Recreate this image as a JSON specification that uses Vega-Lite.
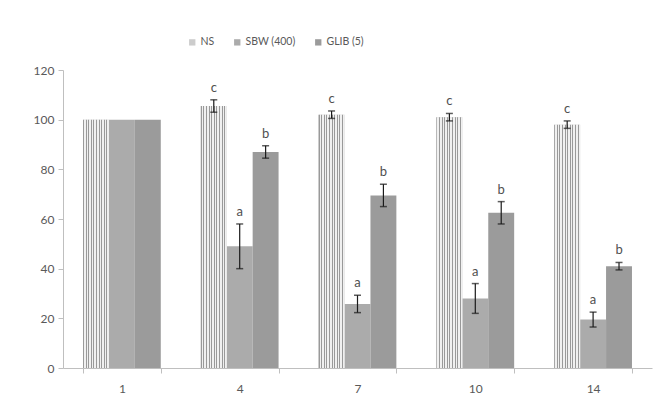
{
  "$schema": "https://vega.github.io/schema/vega-lite/v6.json",
  "width": 589,
  "height": 298,
  "autosize": {"type": "none"},
  "padding": {"left": 63, "top": 70, "right": 15, "bottom": 35},
  "background": "#ffffff",
  "config": {
    "view": {"stroke": null},
    "font": "Lato",
    "axis": {"labelFont": "Lato", "labelColor": "#595959", "labelFontSize": 12, "domainColor": "#bfbfbf", "tickColor": "#bfbfbf", "grid": false, "title": null}
  },
  "data": {
    "values": [
      {"day": 1, "s": "NS", "v": 100, "e": 0, "lbl": ""},
      {"day": 1, "s": "SBW (400)", "v": 100, "e": 0, "lbl": ""},
      {"day": 1, "s": "GLIB (5)", "v": 100, "e": 0, "lbl": ""},
      {"day": 4, "s": "NS", "v": 105.5, "e": 2.5, "lbl": "c"},
      {"day": 4, "s": "SBW (400)", "v": 49, "e": 9, "lbl": "a"},
      {"day": 4, "s": "GLIB (5)", "v": 87, "e": 2.5, "lbl": "b"},
      {"day": 7, "s": "NS", "v": 102, "e": 1.5, "lbl": "c"},
      {"day": 7, "s": "SBW (400)", "v": 25.8, "e": 3.5, "lbl": "a"},
      {"day": 7, "s": "GLIB (5)", "v": 69.5, "e": 4.5, "lbl": "b"},
      {"day": 10, "s": "NS", "v": 101, "e": 1.5, "lbl": "c"},
      {"day": 10, "s": "SBW (400)", "v": 28, "e": 6, "lbl": "a"},
      {"day": 10, "s": "GLIB (5)", "v": 62.5, "e": 4.5, "lbl": "b"},
      {"day": 14, "s": "NS", "v": 98, "e": 1.5, "lbl": "c"},
      {"day": 14, "s": "SBW (400)", "v": 19.5, "e": 3, "lbl": "a"},
      {"day": 14, "s": "GLIB (5)", "v": 41, "e": 1.5, "lbl": "b"}
    ]
  },
  "transform": [
    {"calculate": "datum.v + datum.e", "as": "hi"},
    {"calculate": "datum.v - datum.e", "as": "lo"}
  ],
  "encoding": {
    "x": {
      "field": "day", "type": "ordinal",
      "scale": {"paddingInner": 0.34, "paddingOuter": 0.17},
      "axis": {"labelAngle": 0, "tickBand": "extent", "tickSize": 5, "labelPadding": 10}
    },
    "xOffset": {"field": "s", "type": "nominal", "scale": {"domain": ["NS", "SBW (400)", "GLIB (5)"], "paddingInner": 0, "paddingOuter": 0}}
  },
  "layer": [
    {
      "mark": {"type": "bar"},
      "encoding": {
        "y": {"field": "v", "type": "quantitative", "scale": {"domain": [0, 120]}, "axis": {"values": [0, 20, 40, 60, 80, 100, 120], "tickSize": 5, "labelPadding": 4}},
        "color": {
          "field": "s", "type": "nominal",
          "scale": {"domain": ["NS", "SBW (400)", "GLIB (5)"], "range": ["#cccccc", "#ababab", "#9b9b9b"]},
          "legend": {
            "title": null, "orient": "none", "direction": "horizontal", "legendX": 124, "legendY": -33,
            "symbolType": "square", "symbolSize": 40, "symbolStrokeWidth": 0, "labelFontSize": 10.5, "labelColor": "#595959", "labelFont": "Lato", "columnPadding": 17, "labelOffset": 3
          }
        }
      }
    },
    {
      "transform": [{"filter": "datum.s === 'NS'"}],
      "mark": {
        "type": "bar",
        "fill": {
          "gradient": "linear", "x1": 0, "y1": 0, "x2": 1, "y2": 0,
          "stops": [
            {"offset": 0.0, "color": "#999999"}, {"offset": 0.04, "color": "#999999"}, {"offset": 0.04, "color": "#f0f0f0"}, {"offset": 0.1, "color": "#f0f0f0"},
            {"offset": 0.1, "color": "#999999"}, {"offset": 0.14, "color": "#999999"}, {"offset": 0.14, "color": "#f0f0f0"}, {"offset": 0.2, "color": "#f0f0f0"},
            {"offset": 0.2, "color": "#999999"}, {"offset": 0.24, "color": "#999999"}, {"offset": 0.24, "color": "#f0f0f0"}, {"offset": 0.3, "color": "#f0f0f0"},
            {"offset": 0.3, "color": "#999999"}, {"offset": 0.34, "color": "#999999"}, {"offset": 0.34, "color": "#f0f0f0"}, {"offset": 0.4, "color": "#f0f0f0"},
            {"offset": 0.4, "color": "#999999"}, {"offset": 0.44, "color": "#999999"}, {"offset": 0.44, "color": "#f0f0f0"}, {"offset": 0.5, "color": "#f0f0f0"},
            {"offset": 0.5, "color": "#999999"}, {"offset": 0.54, "color": "#999999"}, {"offset": 0.54, "color": "#f0f0f0"}, {"offset": 0.6, "color": "#f0f0f0"},
            {"offset": 0.6, "color": "#999999"}, {"offset": 0.64, "color": "#999999"}, {"offset": 0.64, "color": "#f0f0f0"}, {"offset": 0.7, "color": "#f0f0f0"},
            {"offset": 0.7, "color": "#999999"}, {"offset": 0.74, "color": "#999999"}, {"offset": 0.74, "color": "#f0f0f0"}, {"offset": 0.8, "color": "#f0f0f0"},
            {"offset": 0.8, "color": "#999999"}, {"offset": 0.84, "color": "#999999"}, {"offset": 0.84, "color": "#f0f0f0"}, {"offset": 0.9, "color": "#f0f0f0"},
            {"offset": 0.9, "color": "#999999"}, {"offset": 0.94, "color": "#999999"}, {"offset": 0.94, "color": "#f0f0f0"}, {"offset": 1.0, "color": "#f0f0f0"}
          ]
        }
      },
      "encoding": {
        "y": {"field": "v", "type": "quantitative"}
      }
    },
    {
      "transform": [{"filter": "datum.e > 0"}],
      "mark": {"type": "rule", "color": "#1a1a1a", "strokeWidth": 1.2},
      "encoding": {
        "y": {"field": "lo", "type": "quantitative"},
        "y2": {"field": "hi"}
      }
    },
    {
      "transform": [{"filter": "datum.e > 0"}],
      "mark": {"type": "tick", "color": "#1a1a1a", "size": 7, "thickness": 1.5},
      "encoding": {
        "y": {"field": "lo", "type": "quantitative"}
      }
    },
    {
      "transform": [{"filter": "datum.e > 0"}],
      "mark": {"type": "tick", "color": "#1a1a1a", "size": 7, "thickness": 1.5},
      "encoding": {
        "y": {"field": "hi", "type": "quantitative"}
      }
    },
    {
      "transform": [{"filter": "datum.e > 0"}],
      "mark": {"type": "text", "dy": -12, "fontSize": 13, "color": "#505050", "font": "Lato"},
      "encoding": {
        "y": {"field": "hi", "type": "quantitative"},
        "text": {"field": "lbl"}
      }
    }
  ]
}
